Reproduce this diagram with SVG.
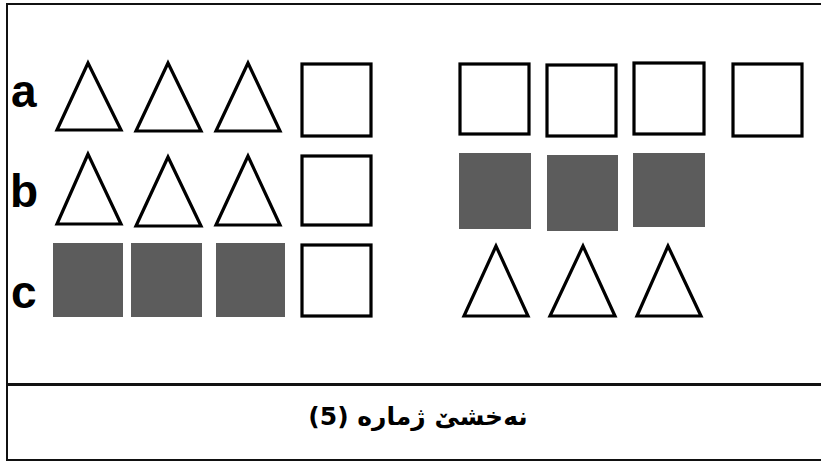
<svg xmlns="http://www.w3.org/2000/svg" width="821" height="463" viewBox="0 0 821 463">
<style>
.frame{fill:none;stroke:#111;stroke-width:2}
.sq{fill:#fff;stroke:#000;stroke-width:3.2}
.gs{fill:#5c5c5c;stroke:none}
.tri{fill:#fff;stroke:#000;stroke-width:3.2;stroke-linejoin:miter}
.lbl{font-family:"Liberation Sans",Arial,sans-serif;font-weight:bold;font-size:46px;fill:#000}
.cap{font-family:"DejaVu Sans","Noto Sans",sans-serif;font-weight:bold;font-size:25px;fill:#000}
</style>
<rect width="821" height="463" fill="#fff"/>
<g id="frame">
<polyline class="frame" points="821,4 7,4 7,460 821,460"/>
<line x1="7" y1="384.5" x2="821" y2="384.5" stroke="#111" stroke-width="3"/>
</g>
<g id="labels">
<text class="lbl" x="11" y="107">a</text>
<text class="lbl" x="10" y="207">b</text>
<text class="lbl" x="11" y="308">c</text>
</g>
<g id="row-a-left">
<polygon class="tri" points="88,63 57,130 121,130"/>
<polygon class="tri" points="168,63 136,131 201,131"/>
<polygon class="tri" points="248,63 216,131 280,131"/>
<rect class="sq" x="302" y="64" width="69" height="72"/>
</g>
<g id="row-b-left">
<polygon class="tri" points="88,154 57,224 121,224"/>
<polygon class="tri" points="168,157 136,226 201,226"/>
<polygon class="tri" points="248,156 216,225 280,225"/>
<rect class="sq" x="302" y="156" width="69" height="69"/>
</g>
<g id="row-c-left">
<rect class="gs" x="53" y="243" width="70" height="74"/>
<rect class="gs" x="131" y="243" width="71" height="74"/>
<rect class="gs" x="216" y="243" width="69" height="74"/>
<rect class="sq" x="302" y="245" width="69" height="71"/>
</g>
<g id="row-a-right">
<rect class="sq" x="460" y="64" width="69" height="70"/>
<rect class="sq" x="547" y="65" width="69" height="71"/>
<rect class="sq" x="634" y="63" width="70" height="71"/>
<rect class="sq" x="733" y="64" width="69" height="72"/>
</g>
<g id="row-b-right">
<rect class="gs" x="459" y="153" width="72" height="76"/>
<rect class="gs" x="547" y="155" width="71" height="76"/>
<rect class="gs" x="633" y="153" width="72" height="74"/>
</g>
<g id="row-c-right">
<polygon class="tri" points="496,246 464,316 528,316"/>
<polygon class="tri" points="583,246 550,316 615,316"/>
<polygon class="tri" points="668,246 637,316 701,316"/>
</g>
<g id="caption">
<text class="cap" x="418" y="425" text-anchor="middle" direction="rtl">نەخشێ ژمارە (5)</text>
</g>
</svg>
